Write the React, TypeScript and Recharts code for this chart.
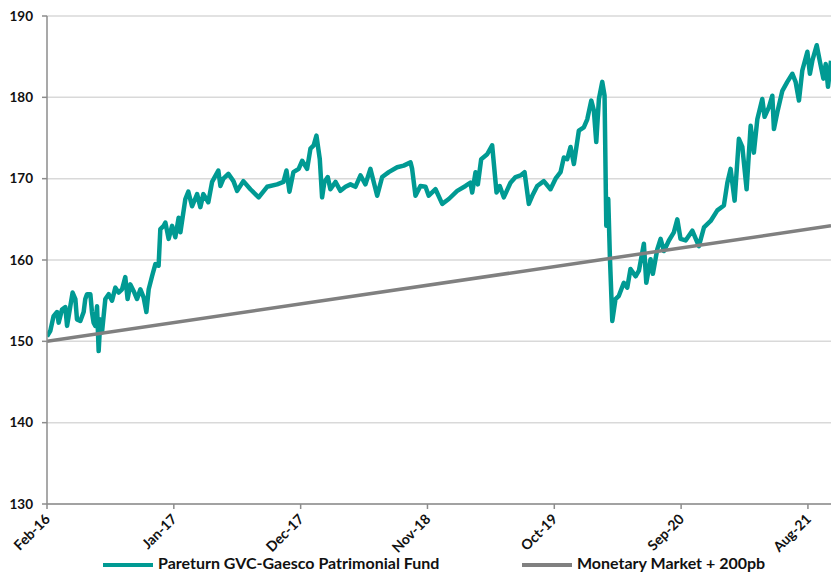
import { LineChart, Line, XAxis, YAxis, CartesianGrid, Legend } from 'recharts'

// x positions are months since Feb-16
const tickMonths = [0, 11, 22, 33, 44, 55, 66]
const tickLabels = ['Feb-16', 'Jan-17', 'Dec-17', 'Nov-18', 'Oct-19', 'Sep-20', 'Aug-21']
const yTicks = [130, 140, 150, 160, 170, 180, 190]

const fundMonths = [
  0.0, 0.29, 0.57, 0.87, 1.01, 1.3, 1.59, 1.74, 2.02, 2.22, 2.46, 2.6, 2.89, 3.18, 3.32, 3.47, 3.76, 3.9,
  4.04, 4.19, 4.34, 4.48, 4.63, 4.77, 5.06, 5.35, 5.64, 5.93, 6.21, 6.51, 6.79, 6.99, 7.23, 7.51, 7.81,
  8.1, 8.38, 8.62, 8.82, 9.11, 9.4, 9.68, 9.83, 10.12, 10.27, 10.55, 10.85, 11.13, 11.42, 11.57, 12.0,
  12.26, 12.58, 13.02, 13.3, 13.56, 13.99, 14.32, 14.86, 15.04, 15.3, 15.73, 16.17, 16.49, 17.03, 17.64,
  18.36, 19.09, 19.96, 20.51, 20.77, 21.03, 21.37, 21.83, 22.13, 22.56, 22.85, 23.13, 23.37, 23.66, 23.86,
  24.06, 24.35, 24.58, 25.02, 25.45, 25.89, 26.32, 26.75, 27.19, 27.62, 28.05, 28.64, 29.07, 29.64, 30.37,
  30.94, 31.53, 31.67, 31.96, 32.39, 32.83, 33.11, 33.7, 34.28, 34.85, 35.58, 36.3, 36.73, 36.88, 37.17,
  37.37, 37.66, 38.18, 38.61, 38.99, 39.27, 39.62, 40.2, 40.64, 41.07, 41.42, 41.79, 42.09, 42.52, 43.09,
  43.67, 44.11, 44.54, 44.83, 45.12, 45.41, 45.7, 46.13, 46.56, 46.86, 47.21, 47.43, 47.64, 47.87, 48.16,
  48.36, 48.51, 48.68, 48.82, 49.03, 49.31, 49.6, 50.03, 50.33, 50.61, 51.05, 51.34, 51.77, 51.98, 52.35,
  52.55, 52.93, 53.22, 53.51, 53.94, 54.37, 54.67, 54.95, 55.39, 55.97, 56.54, 56.98, 57.56, 58.14, 58.71,
  59.01, 59.29, 59.64, 60.01, 60.31, 60.68, 61.03, 61.31, 61.61, 62.04, 62.24, 62.62, 62.91, 63.05, 63.35,
  63.78, 64.21, 64.65, 64.93, 65.22, 65.51, 65.95, 66.17, 66.38, 66.76, 67.05, 67.34, 67.54, 67.74, 68.0,
]
const fundValues = [
  150.6, 151.3, 153.1, 153.6, 152.3, 153.9, 154.2, 151.9, 154.3, 156.0, 155.2, 152.7, 152.5, 153.6, 155.2,
  155.8, 155.8, 153.6, 152.3, 151.9, 154.3, 148.8, 152.7, 151.1, 155.2, 155.8, 155.0, 156.6, 156.0, 156.4,
  157.9, 155.2, 157.0, 156.2, 155.2, 156.4, 155.4, 153.6, 156.4, 158.0, 159.5, 159.3, 163.8, 164.2, 164.6,
  162.6, 164.2, 162.8, 165.2, 163.4, 167.5, 168.4, 166.6, 168.1, 166.5, 168.1, 167.1, 169.6, 171.0, 169.1,
  170.0, 170.6, 169.7, 168.5, 169.7, 168.7, 167.7, 169.0, 169.3, 169.6, 171.0, 168.4, 170.8, 171.2, 172.2,
  171.2, 173.7, 174.1, 175.3, 172.4, 167.7, 169.6, 170.2, 168.7, 169.6, 168.5, 169.0, 169.3, 169.0, 170.4,
  169.3, 171.2, 167.9, 170.2, 170.8, 171.4, 171.6, 172.0, 171.2, 167.9, 169.1, 169.0, 167.9, 168.7, 166.9,
  167.5, 168.5, 169.1, 169.5, 168.3, 170.8, 169.3, 172.4, 173.0, 174.1, 168.3, 169.1, 167.7, 169.5, 170.2,
  170.4, 170.8, 166.9, 167.9, 169.1, 169.7, 168.7, 170.0, 170.8, 172.6, 172.4, 173.9, 171.8, 175.9, 176.3,
  177.3, 179.6, 178.4, 174.5, 179.8, 181.9, 180.2, 164.2, 167.5, 160.5, 152.5, 155.2, 155.6, 157.2, 156.6,
  158.9, 158.0, 158.7, 162.0, 157.2, 160.1, 158.3, 161.3, 162.6, 161.1, 162.4, 163.4, 165.0, 162.6, 162.4,
  163.6, 161.7, 164.0, 164.8, 166.1, 166.7, 169.5, 171.2, 167.3, 174.9, 173.9, 168.7, 176.5, 173.2, 177.3,
  179.8, 177.6, 178.8, 180.2, 176.1, 178.2, 180.8, 181.9, 182.9, 181.9, 179.6, 183.3, 185.6, 182.9, 184.5,
  186.4, 184.3, 182.3, 184.1, 181.3, 184.5,
]

const monetaryMonths = [0, 68]
const monetaryValues = [150, 164.2]

const fundData = fundMonths.map((t, i) => ({ t, v: fundValues[i] }))
const monetaryData = monetaryMonths.map((t, i) => ({ t, v: monetaryValues[i] }))

const TEAL = '#009a93'
const GREY = '#808080'
const AXIS = '#8c8c8c'
const FONT = 'Lato, "Open Sans", sans-serif'

const XTick = (props: any) => {
  const { x, payload } = props
  const i = tickMonths.indexOf(payload.value)
  return (
    <g transform={`translate(${x + 4},${520})`}>
      <text textAnchor="end" transform="rotate(-45)" fontFamily={FONT} fontWeight={700} fontSize={14} fill="#111">
        {tickLabels[i]}
      </text>
    </g>
  )
}

const LegendContent = () => (
  <div style={{ position: 'relative', height: 30, fontFamily: FONT, fontWeight: 700, fontSize: 16, color: '#111' }}>
    <div style={{ position: 'absolute', left: 103, top: 15, width: 50, height: 4, background: TEAL }} />
    <div style={{ position: 'absolute', left: 158, top: 5, whiteSpace: 'nowrap' }}>Pareturn GVC-Gaesco Patrimonial Fund</div>
    <div style={{ position: 'absolute', left: 522, top: 15, width: 50, height: 4, background: GREY }} />
    <div style={{ position: 'absolute', left: 577, top: 5, whiteSpace: 'nowrap' }}>Monetary Market + 200pb</div>
  </div>
)

export default function App() {
  return (
    <div style={{ position: 'absolute', left: 0, top: 0, width: 831, height: 578, background: '#fff' }}>
      <LineChart width={831} height={578} margin={{ top: 16, right: 0, bottom: 0, left: 0 }}>
        <CartesianGrid horizontal vertical={false} stroke="#d9d9d9" strokeWidth={1.5} />
        <XAxis
          type="number"
          dataKey="t"
          domain={[0, 68]}
          ticks={tickMonths}
          tick={<XTick />}
          height={44}
          axisLine={{ stroke: AXIS, strokeWidth: 1.5 }}
          tickLine={{ stroke: AXIS, strokeWidth: 1.5 }}
          tickSize={5}
          allowDataOverflow
        />
        <YAxis
          type="number"
          domain={[130, 190]}
          ticks={yTicks}
          width={47}
          interval={0}
          tick={{ fontFamily: FONT, fontWeight: 700, fontSize: 13.5, fill: '#111' }}
          axisLine={{ stroke: AXIS, strokeWidth: 1.5 }}
          tickLine={{ stroke: AXIS, strokeWidth: 1.5 }}
          tickSize={5}
          tickMargin={9}
        />
        <Legend verticalAlign="bottom" height={30} content={<LegendContent />} />
        <Line
          data={fundData}
          dataKey="v"
          name="Pareturn GVC-Gaesco Patrimonial Fund"
          stroke={TEAL}
          strokeWidth={4.5}
          strokeLinejoin="round"
          dot={false}
          activeDot={false}
          isAnimationActive={false}
        />
        <Line
          data={monetaryData}
          dataKey="v"
          name="Monetary Market + 200pb"
          stroke={GREY}
          strokeWidth={3.5}
          dot={false}
          activeDot={false}
          isAnimationActive={false}
        />
      </LineChart>
    </div>
  )
}
